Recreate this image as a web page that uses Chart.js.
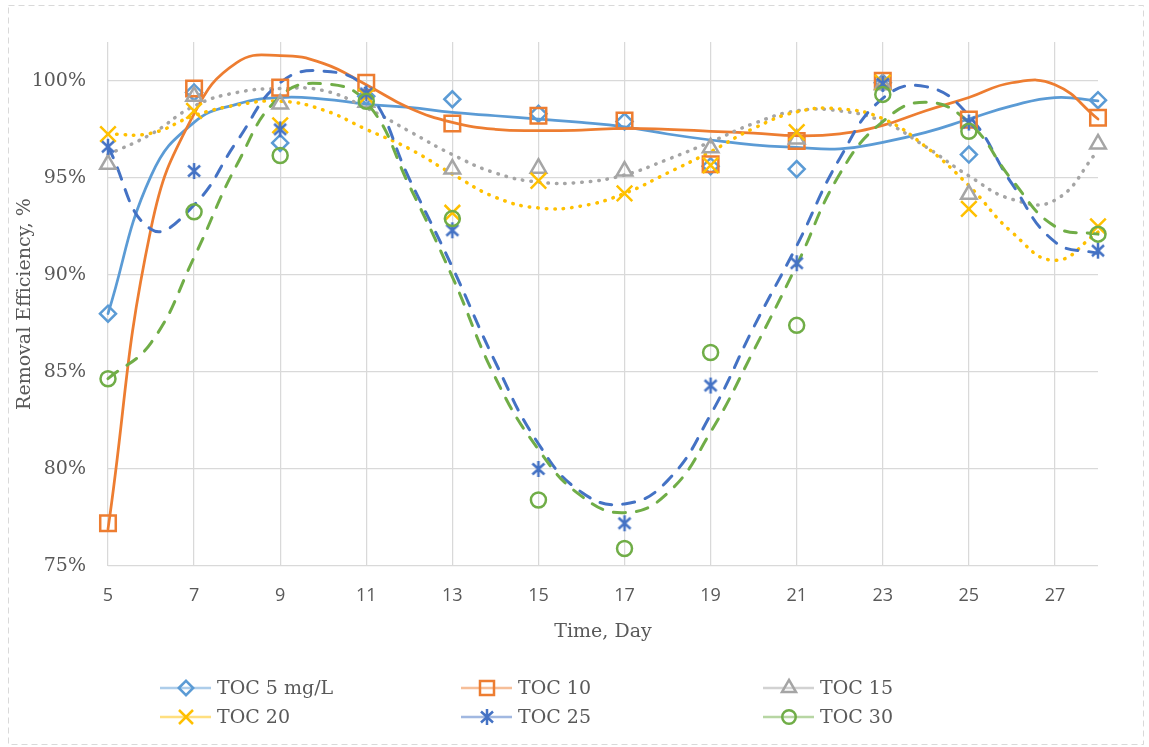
<!DOCTYPE html>
<html>
<head>
<meta charset="utf-8">
<title>Removal Efficiency</title>
<script src="https://cdn.jsdelivr.net/npm/chart.js@4.4.1/dist/chart.umd.min.js"></script>
<style>
    body { margin: 0; background: #ffffff; }
    #chartBox { width: 1149px; height: 747px; }
</style>
</head>
<body>
<div id="chartBox"><canvas id="removalChart" width="1149" height="747"></canvas></div>
<script>

//  ==================== DATA ====================
// measured days
const days = [5, 7, 9, 11, 13, 15, 17, 19, 21, 23, 25, 28];

// removal efficiency, %
const toc5  = [88.0, 99.4, 96.8, 99.2, 99.05, 98.3, 97.9, 95.6, 95.45, 99.9, 96.2, 99.0];
const toc10 = [77.2, 99.6, 99.65, 99.9, 97.8, 98.2, 97.95, 95.7, 96.9, 100.0, 98.0, 98.1];
const toc15 = [95.7, 99.2, 98.8, 98.9, 95.45, 95.5, 95.35, 96.55, 97.0, 99.8, 94.15, 96.75];
const toc20 = [97.25, 98.45, 97.7, 99.2, 93.2, 94.85, 94.2, 95.65, 97.35, 99.9, 93.4, 92.5];
const toc25 = [96.6, 95.35, 97.5, 99.35, 92.3, 80.0, 77.2, 84.3, 90.6, 99.85, 97.85, 91.25];
const toc30 = [84.65, 93.25, 96.15, 98.95, 92.9, 78.4, 75.9, 86.0, 87.4, 99.3, 97.4, 92.1];

// trend curves
const trendDays = [5, 6, 7, 8, 9, 10, 11, 12, 13, 14, 15, 16, 17, 18, 19, 20, 21, 22, 23, 24, 25, 26, 27, 28];
const trend5  = [88.0, 95.1, 97.86, 98.8, 99.14, 99.06, 98.8, 98.63, 98.37, 98.2, 98.03, 97.86, 97.63, 97.26, 96.95, 96.7, 96.57, 96.49, 96.83, 97.34, 98.03, 98.71, 99.14, 98.97];
const trend10 = [76.9, 92.4, 98.3, 100.95, 101.3, 100.9, 99.8, 98.6, 97.86, 97.5, 97.43, 97.46, 97.55, 97.5, 97.4, 97.3, 97.17, 97.27, 97.7, 98.46, 99.14, 99.9, 99.8, 98.03];
const trend15 = [96.2, 97.25, 98.7, 99.4, 99.6, 99.5, 98.6, 97.4, 96.2, 95.25, 94.78, 94.77, 95.15, 95.95, 96.85, 97.8, 98.45, 98.45, 97.9, 96.6, 95.1, 93.9, 93.85, 96.4];
const trend20 = [97.25, 97.3, 98.2, 98.75, 98.95, 98.5, 97.5, 96.5, 95.2, 94.0, 93.45, 93.55, 94.2, 95.25, 96.35, 97.55, 98.4, 98.55, 98.05, 96.6, 94.6, 92.2, 90.75, 92.2];
const trend25 = [96.6, 92.35, 93.6, 96.9, 99.9, 100.5, 99.55, 94.95, 90.4, 85.5, 81.3, 78.8, 78.2, 79.4, 82.8, 87.3, 91.5, 96.0, 99.1, 99.7, 98.2, 94.7, 91.7, 91.1];
const trend30 = [84.65, 86.5, 90.9, 95.7, 99.2, 99.85, 98.9, 94.6, 89.9, 84.7, 81.0, 78.6, 77.75, 78.75, 81.9, 86.1, 90.5, 95.2, 97.9, 98.9, 97.85, 94.9, 92.5, 92.1];

const seriesNames = ['TOC 5 mg/L', 'TOC 10', 'TOC 15', 'TOC 20', 'TOC 25', 'TOC 30'];

// axis ticks
const xTickValues = [5, 7, 9, 11, 13, 15, 17, 19, 21, 23, 25, 27];
const yTickValues = [75, 80, 85, 90, 95, 100];


//  ==================== STYLES ====================
const textColor = '#595959';
const serifFont = "'DejaVu Serif', Georgia, serif";

function asteriskMarker(color){
    let c = document.createElement('canvas');
    c.width = 18;
    c.height = 18;
    let g = c.getContext('2d');
    g.strokeStyle = color;
    g.lineWidth = 2.5;
    g.beginPath();
    g.moveTo(9, 1);  g.lineTo(9, 17);
    g.moveTo(3, 3.5); g.lineTo(15, 14.5);
    g.moveTo(15, 3.5); g.lineTo(3, 14.5);
    g.stroke();
    return c;
}

const seriesStyle = [
    { color: '#5B9BD5', point: 'rectRot',  radius: 8,   dash: [],       width: 2.75 },
    { color: '#ED7D31', point: 'rect',     radius: 11,  dash: [],       width: 2.75 },
    { color: '#A5A5A5', point: 'triangle', radius: 9,   dash: [0.5, 8], width: 3.5 },
    { color: '#FFC000', point: 'crossRot', radius: 11,  dash: [0.5, 8], width: 3.5 },
    { color: '#4472C4', point: asteriskMarker('#4472C4'), radius: 9, dash: [12, 11], width: 3 },
    { color: '#70AD47', point: 'circle',   radius: 7.5, dash: [12, 11], width: 3 }
];

const seriesValues = [toc5, toc10, toc15, toc20, toc25, toc30];
const trendValues = [trend5, trend10, trend15, trend20, trend25, trend30];


//  ==================== DATASETS ====================
let datasets = [];

// smooth trend lines
for (let i = 0; i < trendValues.length; i++) {
    datasets.push({
        label: seriesNames[i] + ' trend',
        data: trendDays.map((d, k) => ({ x: d, y: trendValues[i][k] })),
        showLine: true,
        tension: 0.45,
        borderColor: seriesStyle[i].color,
        borderWidth: seriesStyle[i].width,
        borderDash: seriesStyle[i].dash,
        borderCapStyle: 'round',
        pointRadius: 0,
        fill: false,
        clip: false,
        order: 20 - i
    });
}

// markers
for (let i = 0; i < seriesValues.length; i++) {
    datasets.push({
        label: seriesNames[i],
        data: days.map((d, k) => ({ x: d, y: seriesValues[i][k] })),
        showLine: false,
        pointStyle: seriesStyle[i].point,
        pointRadius: seriesStyle[i].radius,
        pointBorderWidth: 2.5,
        pointBorderColor: seriesStyle[i].color,
        pointBackgroundColor: 'rgba(0,0,0,0)',
        borderColor: seriesStyle[i].color,
        clip: false,
        order: 10 - i
    });
}


//  ==================== PLUGINS ====================
// white page with the dashed outer frame
const framePlugin = {
    id: 'frame',
    beforeDraw: function(chart){
        let ctx = chart.ctx;
        ctx.save();
        ctx.fillStyle = '#ffffff';
        ctx.fillRect(0, 0, chart.width, chart.height);
        ctx.strokeStyle = '#d9d9d9';
        ctx.lineWidth = 1;
        ctx.setLineDash([6, 4]);
        ctx.strokeRect(8.5, 5.5, 1135, 739);
        ctx.restore();
    }
};

// legend in a 3 x 2 grid
const gridLegendPlugin = {
    id: 'gridLegend',
    afterDraw: function(chart){
        let ctx = chart.ctx;
        let colX = [160, 461, 763];
        let rowY = [688, 717];
        ctx.save();
        for (let i = 0; i < seriesNames.length; i++) {
            let st = seriesStyle[i];
            let x0 = colX[i % 3];
            let y = rowY[Math.floor(i / 3)];

            ctx.globalAlpha = 0.5;
            ctx.strokeStyle = st.color;
            ctx.lineWidth = 2.5;
            ctx.setLineDash([]);
            ctx.beginPath();
            ctx.moveTo(x0, y);
            ctx.lineTo(x0 + 51, y);
            ctx.stroke();

            ctx.globalAlpha = 1;
            ctx.strokeStyle = st.color;
            ctx.fillStyle = 'rgba(0,0,0,0)';
            ctx.lineWidth = 2.5;
            Chart.helpers.drawPoint(ctx, {
                pointStyle: st.point,
                radius: st.radius * 0.9,
                rotation: 0,
                borderWidth: 2.5
            }, x0 + 26, y);

            ctx.fillStyle = textColor;
            ctx.font = '19px ' + serifFont;
            ctx.textAlign = 'left';
            ctx.textBaseline = 'middle';
            ctx.fillText(seriesNames[i], x0 + 57, y + 1);
        }
        ctx.restore();
    }
};


//  ==================== CHART ====================
let removalCtx = document.getElementById('removalChart');
let removalChart = new Chart(removalCtx, {
    type: 'scatter',
    data: { datasets: datasets },
    options: {
        responsive: false,
        animation: false,
        events: [],
        layout: {
            padding: { top: 42, right: 51, left: 0, bottom: 0 }
        },
        plugins: {
            legend: { display: false },
            tooltip: { enabled: false }
        },
        scales: {
            x: {
                type: 'linear',
                min: 5,
                max: 28,
                afterBuildTicks: function(scale){
                    scale.ticks = xTickValues.map(v => ({ value: v }));
                },
                afterFit: function(scale){
                    scale.height = 181;
                },
                grid: { color: '#d9d9d9', lineWidth: 1.25, drawTicks: false },
                border: { display: false },
                ticks: {
                    padding: 19,
                    autoSkip: false,
                    maxRotation: 0,
                    color: textColor,
                    font: { family: "'Open Sans', sans-serif", size: 18 }
                },
                title: {
                    display: true,
                    text: 'Time, Day',
                    color: textColor,
                    font: { family: serifFont, size: 19 },
                    padding: { top: 0, bottom: 104 }
                }
            },
            y: {
                min: 75,
                max: 102,
                afterBuildTicks: function(scale){
                    scale.ticks = yTickValues.map(v => ({ value: v }));
                },
                afterFit: function(scale){
                    scale.width = 108;
                },
                grid: { color: '#d9d9d9', lineWidth: 1.25, drawTicks: false },
                border: { display: false },
                ticks: {
                    padding: 22,
                    color: textColor,
                    font: { family: serifFont, size: 19 },
                    callback: function(value){
                        return value + '%';
                    }
                },
                title: {
                    display: true,
                    text: 'Removal Efficiency, %',
                    color: textColor,
                    font: { family: serifFont, size: 19 },
                    padding: { top: 14, bottom: 0 }
                }
            }
        }
    },
    plugins: [framePlugin, gridLegendPlugin]
});

</script>
</body>
</html>
